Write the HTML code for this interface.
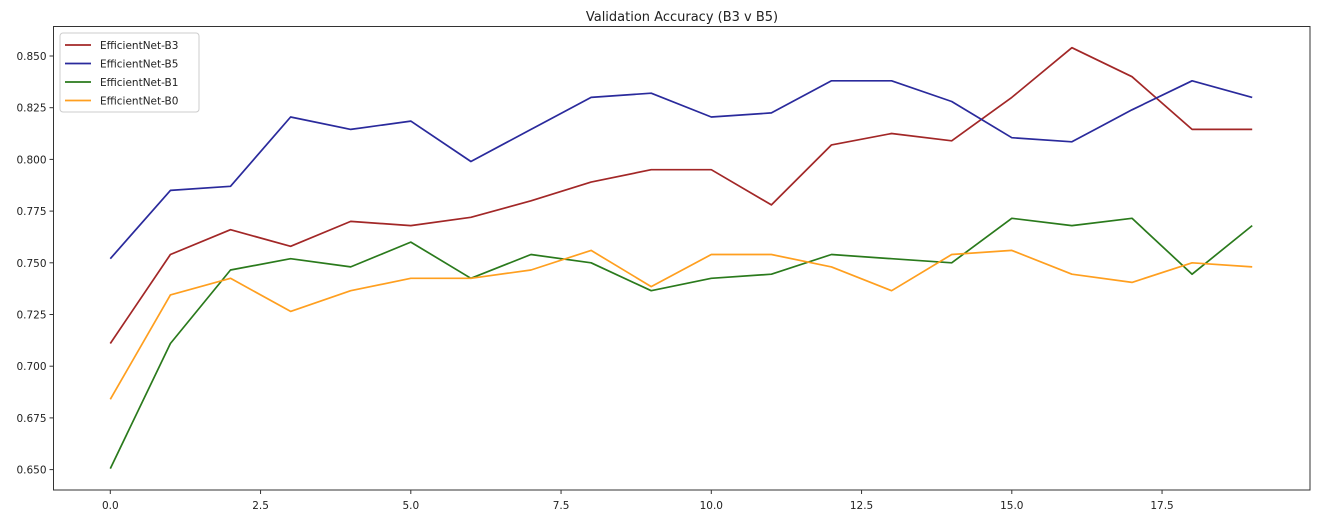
<!DOCTYPE html>
<html><head><meta charset="utf-8"><style>
body{margin:0;background:#fff;}
svg{display:block;font-family:"DejaVu Sans","Liberation Sans",sans-serif;}
</style></head><body>
<svg id="chart" width="1317" height="520" xmlns="http://www.w3.org/2000/svg">
<text x="682" y="21" font-size="13" text-anchor="middle" fill="#222">Validation Accuracy (B3 v B5)</text>
<g id="plot"></g>
</svg>
<script>
const epochs = [0,1,2,3,4,5,6,7,8,9,10,11,12,13,14,15,16,17,18,19];
const b3 = [0.711,0.754,0.766,0.758,0.770,0.768,0.772,0.780,0.789,0.795,0.795,0.778,0.807,0.8125,0.809,0.830,0.854,0.840,0.8145,0.8145];
const b5 = [0.752,0.785,0.787,0.8205,0.8145,0.8185,0.799,0.8145,0.830,0.832,0.8205,0.8225,0.838,0.838,0.828,0.8105,0.8085,0.824,0.838,0.830];
const b1 = [0.6505,0.711,0.7465,0.752,0.748,0.760,0.7425,0.754,0.750,0.7365,0.7425,0.7445,0.754,0.752,0.750,0.7715,0.768,0.7715,0.7445,0.768];
const b0 = [0.684,0.7345,0.7425,0.7265,0.7365,0.7425,0.7425,0.7465,0.756,0.7385,0.754,0.754,0.748,0.7365,0.754,0.756,0.7445,0.7405,0.750,0.748];
const xTicks = [0,2.5,5,7.5,10,12.5,15,17.5];
const xTickLabels = ["0.0","2.5","5.0","7.5","10.0","12.5","15.0","17.5"];
const yTicks = [0.650,0.675,0.700,0.725,0.750,0.775,0.800,0.825,0.850];
const yTickLabels = ["0.650","0.675","0.700","0.725","0.750","0.775","0.800","0.825","0.850"];
const seriesNames = ["EfficientNet-B3","EfficientNet-B5","EfficientNet-B1","EfficientNet-B0"];

const L=53.5,R=1310,T=26.5,B=490;
const X=v=>110.3+v*60.1;
const Y=v=>56+(0.850-v)/0.025*51.7;
const ns="http://www.w3.org/2000/svg";
const g=document.getElementById('plot');
function mk(tag,attrs,parent){const e=document.createElementNS(ns,tag);for(const k in attrs)e.setAttribute(k,attrs[k]);(parent||g).appendChild(e);return e;}

const frame=mk('rect',{x:L,y:T,width:R-L,height:B-T,fill:'none',stroke:'#333','stroke-width':1});



xTicks.forEach((t,i)=>{
  const tk=mk('line',{x1:X(t),x2:X(t),y1:B,y2:B+4,stroke:'#333'});
  
  
  const tx=mk('text',{x:X(t),y:B+19,'font-size':10.5,'text-anchor':'middle',fill:'#222'});
  tx.textContent=xTickLabels[i];
  
  
});
yTicks.forEach((t,i)=>{
  const tk=mk('line',{x1:L-4,x2:L,y1:Y(t),y2:Y(t),stroke:'#333'});
  
  
  const tx=mk('text',{x:L-7,y:Y(t)+4,'font-size':10.5,'text-anchor':'end',fill:'#222'});
  tx.textContent=yTickLabels[i];
  
  
});

const allSeries=[b3,b5,b1,b0];
const colors=['#a22727','#2a2a9c','#2a7a1c','#ff9f1f'];
const lineNames=['line-b3','line-b5','line-b1','line-b0'];
allSeries.forEach((s,i)=>{
  const d=s.map((v,j)=>(j?'L':'M')+X(epochs[j]).toFixed(1)+','+Y(v).toFixed(1)).join(' ');
  const p=mk('path',{d:d,fill:'none',stroke:colors[i],'stroke-width':1.7,'stroke-linejoin':'round'});
  
  
});

const lg=mk('g',{});


mk('rect',{x:60,y:33,width:139,height:79,rx:3,fill:'#fff','fill-opacity':0.85,stroke:'#ccc'},lg);
seriesNames.forEach((n,i)=>{
  const y=45+i*18.5;
  const ln=mk('line',{x1:65,x2:91,y1:y,y2:y,stroke:colors[i],'stroke-width':1.7},lg);
  
  
  const t=mk('text',{x:100,y:y+4,'font-size':10.5,fill:'#222'},lg);
  t.textContent=n;
  
  
});
</script>
</body></html>
